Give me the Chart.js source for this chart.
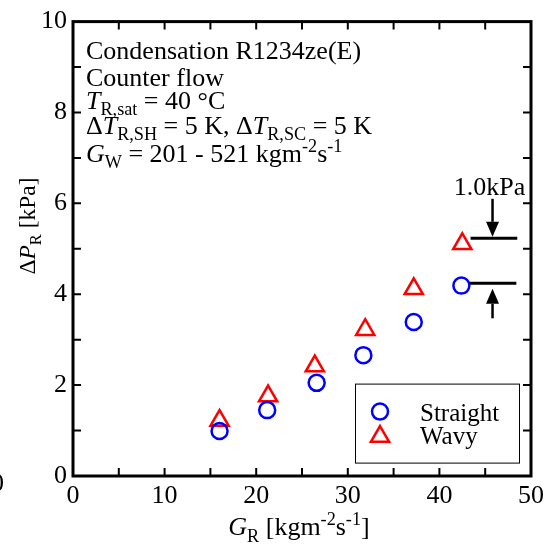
<!DOCTYPE html>
<html lang="en">
<head>
<meta charset="UTF-8">
<title>Condensation pressure drop R1234ze(E)</title>
<script src="https://cdn.jsdelivr.net/npm/chart.js"></script>
<style>
    html, body { margin: 0; padding: 0; background: #fff; }
    #wrap { width: 550px; height: 546px; }
</style>
</head>
<body>
<div id="wrap"><canvas id="dpChart" width="550" height="546"></canvas></div>
<script>
// mass flux G_R vs refrigerant pressure drop
const straightG  = [16.0, 21.2, 26.6, 31.7, 37.2, 42.4];
const straightDP = [0.99, 1.45, 2.05, 2.66, 3.39, 4.19];
const wavyG      = [16.0, 21.3, 26.4, 31.9, 37.2, 42.5];
const wavyDP     = [1.22, 1.76, 2.42, 3.22, 4.12, 5.11];
const seriesNames = ['Straight', 'Wavy'];

const xTicks = [0, 10, 20, 30, 40, 50];
const yTicks = [0, 2, 4, 6, 8, 10];

// 1.0 kPa difference marker at the highest flux
const gapBarX = [43.4, 48.5];
const gapBarY = [5.23, 4.24];
const gapArrowX = 45.8;
const gapArrowTail = [6.1, 3.47];
const gapLabel = '1.0kPa';

const SERIF = '"Liberation Serif", "DejaVu Serif", serif';
const BLUE = '#0000ff';
const RED = '#ff0000';

// draws text made of [text, kind] pieces, kind = '' | 'i' | 'sub' | 'sup'
function drawRich(ctx, x, y, parts, size, measureOnly) {
    let cx = x;
    parts.forEach(([txt, kind]) => {
        let fs = size, dy = 0, style = '';
        if (kind === 'i') style = 'italic ';
        if (kind === 'sub') { fs = size * 0.7; dy = size * 0.26; }
        if (kind === 'sup') { fs = size * 0.7; dy = -size * 0.38; }
        ctx.font = style + fs + 'px ' + SERIF;
        if (!measureOnly) ctx.fillText(txt, cx, y + dy);
        cx += ctx.measureText(txt).width;
    });
    return cx - x;
}

const infoLines = [
    [['Condensation R1234ze(E)', '']],
    [['Counter flow', '']],
    [['T', 'i'], ['R,sat', 'sub'], [' = 40 \u00B0C', '']],
    [['\u0394', ''], ['T', 'i'], ['R,SH', 'sub'], [' = 5 K, \u0394', ''], ['T', 'i'], ['R,SC', 'sub'], [' = 5 K', '']],
    [['G', 'i'], ['W', 'sub'], [' = 201 - 521 kgm', ''], ['-2', 'sup'], ['s', ''], ['-1', 'sup']]
];
const infoBaselines = [37, 64, 87, 112, 140];

const xTitle = [['G', 'i'], ['R', 'sub'], [' [kgm', ''], ['-2', 'sup'], ['s', ''], ['-1', 'sup'], [']', '']];
const yTitle = [['\u0394', ''], ['P', 'i'], ['R', 'sub'], [' [kPa]', '']];

function drawArrow(ctx, x, yTail, yTip) {
    const dir = Math.sign(yTip - yTail);
    const head = 15, half = 6.5;
    ctx.beginPath();
    ctx.moveTo(x, yTail);
    ctx.lineTo(x, yTip - dir * head);
    ctx.stroke();
    ctx.beginPath();
    ctx.moveTo(x, yTip);
    ctx.lineTo(x - half, yTip - dir * head);
    ctx.lineTo(x + half, yTip - dir * head);
    ctx.closePath();
    ctx.fill();
}

const decorations = {
    id: 'decorations',
    afterDatasetsDraw(chart) {
        const { ctx, chartArea: a } = chart;
        const xs = chart.scales.x, ys = chart.scales.y;
        ctx.save();
        ctx.fillStyle = '#000';
        ctx.strokeStyle = '#000';

        // frame
        ctx.lineWidth = 3;
        ctx.strokeRect(a.left, a.top, a.right - a.left, a.bottom - a.top);

        // inward ticks on all four sides
        ctx.lineWidth = 2;
        ctx.beginPath();
        for (let v = xTicks[0] + 5; v < xTicks[xTicks.length - 1]; v += 5) {
            const px = xs.getPixelForValue(v);
            ctx.moveTo(px, a.bottom); ctx.lineTo(px, a.bottom - 8);
            ctx.moveTo(px, a.top); ctx.lineTo(px, a.top + 8);
        }
        for (let v = yTicks[0] + 1; v < yTicks[yTicks.length - 1]; v += 1) {
            const py = ys.getPixelForValue(v);
            ctx.moveTo(a.left, py); ctx.lineTo(a.left + 8, py);
            ctx.moveTo(a.right, py); ctx.lineTo(a.right - 8, py);
        }
        ctx.stroke();

        // info text block
        ctx.textAlign = 'left';
        ctx.textBaseline = 'alphabetic';
        infoLines.forEach((parts, i) => {
            drawRich(ctx, a.left + 13, a.top + infoBaselines[i], parts, 26);
        });

        // axis titles
        const xw = drawRich(ctx, 0, 0, xTitle, 26, true);
        drawRich(ctx, (a.left + a.right) / 2 - xw / 2 - 3, 535, xTitle, 26);
        const yw = drawRich(ctx, 0, 0, yTitle, 23.5, true);
        ctx.save();
        ctx.translate(35, 226);
        ctx.rotate(-Math.PI / 2);
        drawRich(ctx, -yw / 2, 0, yTitle, 23.5);
        ctx.restore();

        // 1.0 kPa arrows and label
        const ax = xs.getPixelForValue(gapArrowX);
        ctx.lineWidth = 2.5;
        drawArrow(ctx, ax, ys.getPixelForValue(gapArrowTail[0]), ys.getPixelForValue(gapBarY[0]) - 1.5);
        drawArrow(ctx, ax, ys.getPixelForValue(gapArrowTail[1]), ys.getPixelForValue(gapBarY[1]) + 5.5);
        ctx.font = '26px ' + SERIF;
        ctx.textAlign = 'center';
        ctx.fillText(gapLabel, ax - 3, ys.getPixelForValue(gapArrowTail[0]) - 4);

        // legend box
        const lx = a.left + 282, ly = a.top + 362;
        ctx.fillStyle = '#fff';
        ctx.fillRect(lx, ly, 164, 79);
        ctx.lineWidth = 1;
        ctx.strokeRect(lx + 0.5, ly + 0.5, 164, 79);
        ctx.lineWidth = 2.5;
        ctx.strokeStyle = BLUE;
        ctx.beginPath();
        ctx.arc(lx + 25, ly + 28, 8, 0, Math.PI * 2);
        ctx.stroke();
        const r = 10.5, tx = lx + 25, ty = ly + 53;
        ctx.strokeStyle = RED;
        ctx.beginPath();
        ctx.moveTo(tx, ty - r);
        ctx.lineTo(tx + r * 0.866, ty + r / 2);
        ctx.lineTo(tx - r * 0.866, ty + r / 2);
        ctx.closePath();
        ctx.stroke();
        ctx.fillStyle = '#000';
        ctx.textAlign = 'left';
        ctx.font = '25px ' + SERIF;
        ctx.fillText(seriesNames[0], lx + 65, ly + 37);
        ctx.fillText(seriesNames[1], lx + 65, ly + 60);

        // edge of a neighbouring axis label
        ctx.font = '26px ' + SERIF;
        ctx.textAlign = 'right';
        ctx.textBaseline = 'middle';
        ctx.fillText('0', 4, 484);

        ctx.restore();
    }
};

function toPoints(xs, ys) {
    return xs.map((v, i) => ({ x: v, y: ys[i] }));
}

const ctx = document.getElementById('dpChart').getContext('2d');
new Chart(ctx, {
    type: 'scatter',
    data: {
        datasets: [
            {
                label: seriesNames[0],
                data: toPoints(straightG, straightDP),
                pointStyle: 'circle',
                pointRadius: 8,
                pointHoverRadius: 8,
                pointBorderWidth: 2.5,
                pointBorderColor: BLUE,
                pointBackgroundColor: 'rgba(0,0,0,0)',
                showLine: false
            },
            {
                label: seriesNames[1],
                data: toPoints(wavyG, wavyDP),
                pointStyle: 'triangle',
                pointRadius: 10.5,
                pointHoverRadius: 10.5,
                pointBorderWidth: 2.5,
                pointBorderColor: RED,
                pointBackgroundColor: 'rgba(0,0,0,0)',
                showLine: false
            },
            {
                data: toPoints(gapBarX, [gapBarY[0], gapBarY[0]]),
                showLine: true,
                borderColor: '#000',
                borderWidth: 3,
                pointRadius: 0
            },
            {
                data: toPoints([gapBarX[0] - 0.2, gapBarX[1] - 0.1], [gapBarY[1], gapBarY[1]]),
                showLine: true,
                borderColor: '#000',
                borderWidth: 3,
                pointRadius: 0
            }
        ]
    },
    options: {
        responsive: false,
        animation: false,
        devicePixelRatio: 1,
        layout: { padding: { top: 16, right: 19, left: 0, bottom: 0 } },
        plugins: {
            legend: { display: false },
            tooltip: { enabled: false }
        },
        scales: {
            x: {
                type: 'linear',
                min: xTicks[0],
                max: xTicks[xTicks.length - 1],
                afterBuildTicks: (s) => { s.ticks = xTicks.map(v => ({ value: v })); },
                afterFit: (s) => { s.height = 70; },
                grid: { display: false, drawTicks: false },
                border: { display: false },
                ticks: {
                    padding: 5,
                    color: '#000',
                    maxRotation: 0,
                    font: { family: SERIF, size: 26 }
                }
            },
            y: {
                type: 'linear',
                min: yTicks[0],
                max: yTicks[yTicks.length - 1],
                afterBuildTicks: (s) => { s.ticks = yTicks.map(v => ({ value: v })); },
                afterFit: (s) => { s.width = 73; },
                grid: { display: false, drawTicks: false },
                border: { display: false },
                ticks: {
                    padding: 6,
                    color: '#000',
                    font: { family: SERIF, size: 26 }
                }
            }
        }
    },
    plugins: [decorations]
});
</script>
</body>
</html>
